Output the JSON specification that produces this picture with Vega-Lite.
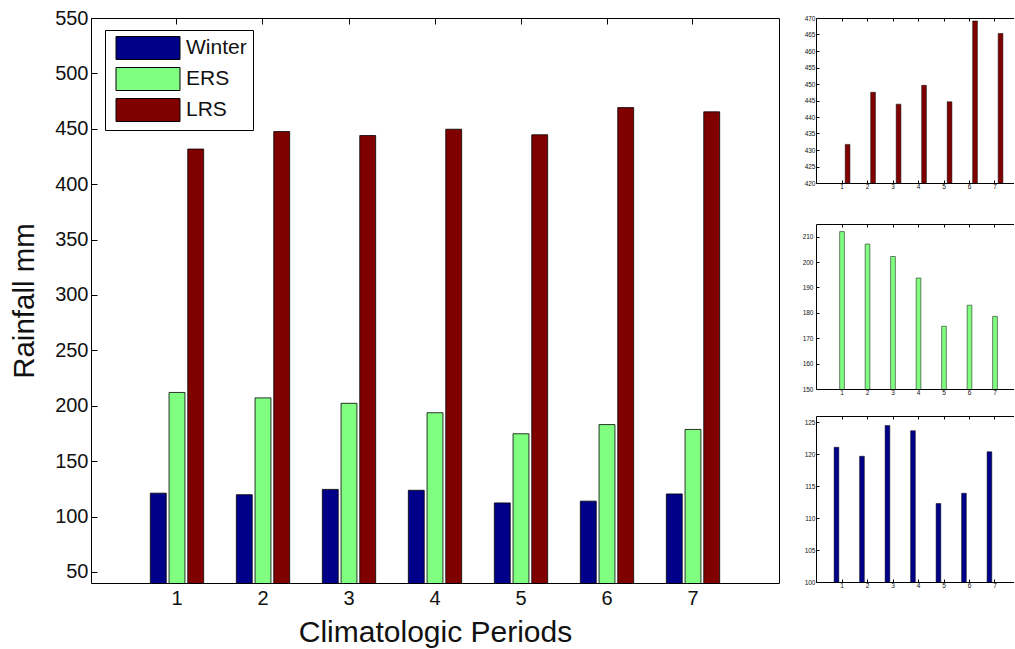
{
  "$schema": "https://vega.github.io/schema/vega-lite/v6.json",
  "padding": {"left": 9, "top": 7, "right": 0, "bottom": 0},
  "background": "white",
  "config": {
    "font": "Liberation Sans",
    "axis": {"grid": false, "domainColor": "black", "tickColor": "black", "labelColor": "#111", "titleColor": "#111", "titleFontWeight": "normal", "labelFont": "Liberation Sans", "titleFont": "Liberation Sans"},
    "view": {"stroke": "black", "strokeWidth": 1}
  },
  "datasets": {
    "rain": [
      {"period": 1, "season": "Winter", "rain": 121.1},
      {"period": 2, "season": "Winter", "rain": 119.7},
      {"period": 3, "season": "Winter", "rain": 124.5},
      {"period": 4, "season": "Winter", "rain": 123.7},
      {"period": 5, "season": "Winter", "rain": 112.3},
      {"period": 6, "season": "Winter", "rain": 113.9},
      {"period": 7, "season": "Winter", "rain": 120.4},
      {"period": 1, "season": "ERS", "rain": 212.0},
      {"period": 2, "season": "ERS", "rain": 207.1},
      {"period": 3, "season": "ERS", "rain": 202.2},
      {"period": 4, "season": "ERS", "rain": 193.7},
      {"period": 5, "season": "ERS", "rain": 174.7},
      {"period": 6, "season": "ERS", "rain": 183.0},
      {"period": 7, "season": "ERS", "rain": 178.6},
      {"period": 1, "season": "LRS", "rain": 431.7},
      {"period": 2, "season": "LRS", "rain": 447.5},
      {"period": 3, "season": "LRS", "rain": 443.9},
      {"period": 4, "season": "LRS", "rain": 449.6},
      {"period": 5, "season": "LRS", "rain": 444.6},
      {"period": 6, "season": "LRS", "rain": 469.1},
      {"period": 7, "season": "LRS", "rain": 465.3}
    ]
  },
  "data": {"name": "rain"},
  "bounds": "flush",
  "spacing": 37,
  "hconcat": [
    {
      "width": 688,
      "height": 565,
      "layer": [
        {
          "mark": {"type": "bar", "stroke": "black", "strokeWidth": 0.8, "clip": true},
          "encoding": {
            "x": {"field": "period", "type": "ordinal", "title": "Climatologic Periods",
              "scale": {"paddingInner": 0.38, "paddingOuter": 0.69},
              "axis": {"orient": "bottom", "labelAngle": 0, "labelFontSize": 20, "titleFontSize": 30, "tickSize": -6, "labelPadding": 11, "titlePadding": 9, "domain": false}},
            "xOffset": {"field": "season", "type": "nominal", "sort": ["Winter", "ERS", "LRS"],
              "scale": {"domain": ["Winter", "ERS", "LRS"], "paddingInner": 0.15, "paddingOuter": 0}},
            "y": {"field": "rain", "type": "quantitative", "title": "Rainfall mm",
              "scale": {"domain": [40, 550], "nice": false, "zero": false},
              "axis": {"orient": "left", "values": [50, 100, 150, 200, 250, 300, 350, 400, 450, 500, 550], "labelFontSize": 20, "titleFontSize": 29.5, "tickSize": -6, "labelPadding": 9, "titlePadding": 15, "domain": false}},
            "color": {"field": "season", "type": "nominal",
              "scale": {"domain": ["Winter", "ERS", "LRS"], "range": ["#000088", "#80FF80", "#800000"]},
              "legend": {"title": null, "orient": "none", "legendX": 14, "legendY": 12,
                "fillColor": "white", "strokeColor": "black", "padding": 6, "cornerRadius": 0,
                "symbolType": "M-2.78,-1H2.78V1H-2.78Z", "symbolSize": 529, "symbolStrokeColor": "black", "symbolStrokeWidth": 1, "symbolOffset": 25,
                "labelFontSize": 21, "labelFont": "Liberation Sans", "labelColor": "#111", "labelOffset": 26, "rowPadding": 3}}
          }
        },
        {
          "mark": {"type": "rule", "opacity": 0},
          "encoding": {
            "x": {"field": "period", "type": "ordinal",
              "axis": {"orient": "top", "labels": false, "title": null, "tickSize": -6, "domain": false}}
          }
        }
      ],
      "resolve": {"axis": {"x": "independent"}}
    },
    {
      "bounds": "flush",
      "spacing": 27,
      "vconcat": [
        {
          "width": 198,
          "height": 165,
          "view": {"stroke": null},
          "transform": [{"filter": "datum.season == 'LRS'"}],
          "layer": [
            {
              "mark": {"type": "bar", "color": "#800000", "stroke": "black", "strokeWidth": 0.5, "clip": true},
              "encoding": {
                "x": {"field": "period", "type": "ordinal", "title": null,
                  "scale": {"paddingInner": 0.38, "paddingOuter": 0.573, "align": 0.62},
                  "axis": {"orient": "bottom", "labelAngle": 0, "labelFontSize": 6.5, "tickSize": -3, "labelPadding": 3}},
                "xOffset": {"field": "season", "type": "nominal",
                  "scale": {"domain": ["Winter", "ERS", "LRS"], "paddingInner": 0.15, "paddingOuter": 0}},
                "y": {"field": "rain", "type": "quantitative", "title": null,
                  "scale": {"domain": [420, 470], "nice": false, "zero": false},
                  "axis": {"orient": "left", "values": [420, 425, 430, 435, 440, 445, 450, 455, 460, 465, 470], "labelFontSize": 6.5, "tickSize": -3, "labelPadding": 4}}
              }
            },
            {
              "mark": {"type": "rule", "opacity": 0},
              "encoding": {
                "x": {"field": "period", "type": "ordinal", "axis": {"orient": "top", "labels": false, "title": null, "tickSize": -3}}
              }
            }
          ],
          "resolve": {"axis": {"x": "independent"}}
        },
        {
          "width": 198,
          "height": 179,
          "view": {"stroke": null},
          "transform": [{"filter": "datum.season == 'ERS'"}],
          "layer": [
            {
              "mark": {"type": "bar", "color": "#80FF80", "stroke": "black", "strokeWidth": 0.5, "clip": true},
              "encoding": {
                "x": {"field": "period", "type": "ordinal", "title": null,
                  "scale": {"paddingInner": 0.38, "paddingOuter": 0.573, "align": 0.62},
                  "axis": {"orient": "bottom", "labelAngle": 0, "labelFontSize": 6.5, "tickSize": -3, "labelPadding": 3}},
                "xOffset": {"field": "season", "type": "nominal",
                  "scale": {"domain": ["Winter", "ERS", "LRS"], "paddingInner": 0.15, "paddingOuter": 0}},
                "y": {"field": "rain", "type": "quantitative", "title": null,
                  "scale": {"domain": [150, 215], "nice": false, "zero": false, "range": [179, 14]},
                  "axis": {"orient": "left", "values": [150, 160, 170, 180, 190, 200, 210], "labelFontSize": 6.5, "tickSize": -3, "labelPadding": 6}}
              }
            },
            {
              "mark": {"type": "rule", "opacity": 0},
              "encoding": {
                "x": {"field": "period", "type": "ordinal", "axis": {"orient": "top", "offset": -14, "labels": false, "title": null, "tickSize": -3}}
              }
            }
          ],
          "resolve": {"axis": {"x": "independent"}}
        },
        {
          "width": 198,
          "height": 166,
          "view": {"stroke": null},
          "transform": [{"filter": "datum.season == 'Winter'"}],
          "layer": [
            {
              "mark": {"type": "bar", "color": "#000088", "stroke": "black", "strokeWidth": 0.5, "clip": true},
              "encoding": {
                "x": {"field": "period", "type": "ordinal", "title": null,
                  "scale": {"paddingInner": 0.38, "paddingOuter": 0.573, "align": 0.62},
                  "axis": {"orient": "bottom", "labelAngle": 0, "labelFontSize": 6.5, "tickSize": -3, "labelPadding": 3}},
                "xOffset": {"field": "season", "type": "nominal",
                  "scale": {"domain": ["Winter", "ERS", "LRS"], "paddingInner": 0.15, "paddingOuter": 0}},
                "y": {"field": "rain", "type": "quantitative", "title": null,
                  "scale": {"domain": [100, 126], "nice": false, "zero": false},
                  "axis": {"orient": "left", "values": [100, 105, 110, 115, 120, 125], "labelFontSize": 6.5, "tickSize": -3, "labelPadding": 4}}
              }
            },
            {
              "mark": {"type": "rule", "opacity": 0},
              "encoding": {
                "x": {"field": "period", "type": "ordinal", "axis": {"orient": "top", "labels": false, "title": null, "tickSize": -3}}
              }
            }
          ],
          "resolve": {"axis": {"x": "independent"}}
        }
      ]
    }
  ],
  "resolve": {"scale": {"x": "independent", "y": "independent", "color": "independent", "xOffset": "independent"}}
}
